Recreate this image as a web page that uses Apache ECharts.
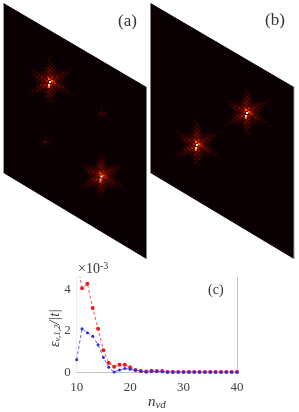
<!DOCTYPE html>
<html><head><meta charset="utf-8">
<style>html,body{margin:0;padding:0;background:#fff}#c{width:299px;height:412px}</style>
<script src="https://cdn.jsdelivr.net/npm/echarts@6/dist/echarts.min.js"></script>
</head><body><div id="c"></div>
<script>
const nvd = [10,11,12,13,14,15,16,17,18,19,20,21,22,23,24,25,26,27,28,29,30,31,32,33,34,35,36,37,38,39,40];
const redValues = [5.5,4.05,4.27,3.1,2.1,1.06,0.44,0.26,0.36,0.36,0.24,0.1,0.05,0.03,0.06,0.05,0.05,0.01,0.01,0,0,0,0,0,0,0,0,0,0,0,0];
const blueValues = [0.6,2.1,1.9,1.73,1.32,0.71,0.23,0.0,0.1,0.17,0.14,0.09,0.05,0.01,0.03,0.03,0.02,0,0,0,0,0,0,0,0,0,0,0,0,0,0];
const yTicks = [0,2,4];

const panelA = [[3.5,3],[146.5,87],[146.5,259],[3.5,173]];
const panelB = [[150.5,3],[294,87],[294,259],[150.5,173]];
const starsBig = [[50,82],[101.5,176.5],[197,145],[247,113]];
const starsSmall = [[102,114],[46,142]];

const armUp = [[-2,-5,4],[2,-5,4],[0,-8,3],[-2,-10,3],[2,-10,2],[0,-12,3],[-2,-14,2],[2,-14,2],[0,-16,2],[-2,-18,1],[2,-18,1],[0,-20,1],[-1,-23,1],[1,-26,0]];
const armDown = [[-2,5,4],[2,6,3],[0,8,3],[-2,10,3],[2,10,2],[0,12,2],[-2,14,2],[2,14,2],[0,17,1],[-2,19,1],[2,20,1],[0,23,0]];
const armUpRight = [[5,-3,3],[7,-5,3],[9,-3,2],[10,-7,2],[12,-5,2],[13,-9,2],[15,-7,1],[16,-10,1],[18,-9,1],[20,-12,0],[22,-13,0]];
const armDownRight = [[6,2,3],[8,4,3],[10,3,2],[11,6,2],[13,5,2],[14,8,1],[16,7,1],[17,10,1],[19,9,1],[21,12,0],[23,13,0]];
const armDownLeft = [[-5,3,4],[-7,5,3],[-9,3,3],[-10,7,2],[-12,5,2],[-13,9,2],[-15,7,1],[-16,10,1],[-18,9,1],[-20,12,0],[-23,13,0]];
const armUpLeft = [[-5,-3,3],[-8,-5,3],[-10,-3,2],[-11,-7,2],[-13,-5,2],[-14,-9,1],[-16,-7,1],[-17,-11,1],[-19,-9,0],[-21,-12,0]];
const coreCells = [[0,0,7],[2,-1,5],[-1,-3,5],[-1,3,6],[3,1,4],[4,-1,4],[-3,-1,4],[1,3,4],[1,-3,4],[-3,2,3],[5,1,4],[-1,5,5]];
const smallCells = [[0,0,2],[-2,-1,2],[2,-1,1],[-1,2,1],[2,2,1],[4,0,1],[-4,1,1],[0,-4,1],[0,5,0],[5,-3,0],[-5,-3,0],[5,3,0],[-5,3,0],[0,-7,0]];
const glowOutline = [[0,-28],[7,-10],[22,-15],[13,0],[23,15],[7,10],[0,26],[-7,10],[-23,15],[-13,0],[-22,-15],[-7,-10]];

const levelColors = ['#1a0100','#2e0300','#4a0500','#720900','#b01300','#f06800','#ffd860','#ffffff'];
const allCells = armUp.concat(armDown, armUpRight, armDownRight, armDownLeft, armUpLeft);

const chart = echarts.init(document.getElementById('c'), null, {renderer:'canvas'});

function poly(api, pts, style){
  return {type:'polygon', shape:{points:pts.map(p=>api.coord(p))}, style:style};
}
const panelData = [panelA, panelB];
const bigCellData = [];
starsBig.forEach(s=>{
  allCells.forEach(c=>bigCellData.push([s[0]+c[0], s[1]+c[1], c[2]]));
  coreCells.forEach(c=>bigCellData.push([s[0]+c[0], s[1]+c[1], c[2]]));
});
starsSmall.forEach(s=>smallCells.forEach(c=>bigCellData.push([s[0]+c[0], s[1]+c[1], c[2]])));

const serif = '"Liberation Serif"';
const option = {
  animation:false,
  backgroundColor:'#fff',
  textStyle:{fontFamily:serif},
  grid:[
    {left:0,top:0,right:0,bottom:0,show:false},
    {left:76.7,right:62,top:277,bottom:35,show:false}
  ],
  xAxis:[
    {gridIndex:0,type:'value',min:0,max:299,show:false},
    {gridIndex:1,type:'value',min:10,max:40,interval:10,
     axisLine:{onZero:false,lineStyle:{color:'#c4c4c4',width:1}},axisTick:{show:false},splitLine:{show:false},
     axisLabel:{color:'#444',fontSize:13,margin:9,fontFamily:serif},
     name:'{i|n}{s|vd}',nameLocation:'middle',nameGap:20,
     nameTextStyle:{rich:{i:{fontFamily:serif,fontStyle:'italic',fontSize:15,color:'#333'},s:{fontFamily:serif,fontStyle:'italic',fontSize:11,color:'#333',verticalAlign:'bottom',padding:[6,0,0,0]}}}
    }
  ],
  yAxis:[
    {gridIndex:0,type:'value',min:0,max:412,inverse:true,show:false},
    {gridIndex:1,type:'value',min:0,max:4.6,interval:2,position:'left',
     axisLine:{show:true,lineStyle:{color:'#ececec',width:1}},axisTick:{show:false},splitLine:{show:false},
     axisLabel:{color:'#444',fontSize:13,margin:6,fontFamily:serif,showMaxLabel:false,verticalAlignMinLabel:'middle',formatter:v=>yTicks.includes(v)?String(v):''}
    },
    {gridIndex:1,type:'value',min:0,max:4.6,position:'right',
     axisLine:{show:true,lineStyle:{color:'#c4c4c4',width:1}},axisTick:{show:false},splitLine:{show:false},axisLabel:{show:false}
    }
  ],
  series:[
    {type:'custom',xAxisIndex:0,yAxisIndex:0,silent:true,clip:false,data:panelData.map((p,i)=>[i]),z:1,
     renderItem:(params,api)=>poly(api,panelData[params.dataIndex],{fill:'#0a0003'})},
    {type:'custom',xAxisIndex:0,yAxisIndex:0,silent:true,clip:false,data:starsBig,z:2,
     renderItem:(params,api)=>{
       const s = starsBig[params.dataIndex];
       return poly(api,glowOutline.map(g=>[s[0]+g[0],s[1]+g[1]]),{
         fill:new echarts.graphic.RadialGradient(0.5,0.5,0.5,[
           {offset:0,color:'rgba(120,14,0,0.95)'},
           {offset:0.4,color:'rgba(58,5,0,0.8)'},
           {offset:1,color:'rgba(20,1,0,0.05)'}])
       });
     }},
    {type:'custom',xAxisIndex:0,yAxisIndex:0,silent:true,clip:false,data:bigCellData,z:3,
     encode:{x:0,y:1},
     renderItem:(params,api)=>{
       const pt = api.coord([api.value(0),api.value(1)]);
       const lv = api.value(2);
       return {type:'rect',shape:{x:pt[0]-1,y:pt[1]-1,width:2,height:2},style:{fill:levelColors[lv]}};
     }},
    {type:'custom',xAxisIndex:0,yAxisIndex:0,silent:true,clip:false,data:[[3.5],[294]],z:4,
     renderItem:(params,api)=>{
       const a = params.dataIndex===0 ? panelA[0] : panelB[1];
       const b = params.dataIndex===0 ? panelA[3] : panelB[2];
       const p1 = api.coord(a), p2 = api.coord(b);
       return {type:'line',shape:{x1:p1[0],y1:p1[1],x2:p2[0],y2:p2[1]},style:{stroke:'#9a9a9a',lineWidth:1}};
     }},
    {type:'line',name:'red',xAxisIndex:1,yAxisIndex:1,data:nvd.map((x,i)=>[x,redValues[i]]),clip:true,z:5,
     symbol:'circle',symbolSize:4,itemStyle:{color:'#f01820'},lineStyle:{color:'#f75055',width:1,type:[3,2.5]}},
    {type:'line',name:'blue',xAxisIndex:1,yAxisIndex:1,data:nvd.map((x,i)=>[x,blueValues[i]]),clip:true,z:6,
     symbol:'circle',symbolSize:3,itemStyle:{color:'#2a2ae8'},lineStyle:{color:'#5a5af0',width:1,type:[3,2.5]}}
  ],
  graphic:[
    {type:'text',left:118,top:13,z:20,style:{text:'(a)',font:'17px "Liberation Serif"',fill:'#333'}},
    {type:'text',left:265,top:12,z:20,style:{text:'(b)',font:'17px "Liberation Serif"',fill:'#333'}},
    {type:'text',left:208,top:283,z:20,style:{text:'(c)',font:'14px "Liberation Serif"',fill:'#333'}},
    {type:'text',left:78,top:261,z:20,style:{
      text:'×10{s|-3}',font:'14px "Liberation Serif"',fill:'#333',
      rich:{s:{fontSize:10,fontFamily:'Liberation Serif',fill:'#333',verticalAlign:'top',padding:[0,0,6,0]}}}},
    {type:'text',x:55,y:328,rotation:Math.PI/2,z:20,style:{
      text:'{i|ε}{s|v,1,2}{i|/|t|}',align:'center',verticalAlign:'middle',
      rich:{i:{fontFamily:'Liberation Serif',fontStyle:'italic',fontSize:14,fill:'#333'},
            s:{fontFamily:'Liberation Serif',fontStyle:'italic',fontSize:9,fill:'#333',verticalAlign:'bottom',padding:[5,0,0,0]}}}}
  ]
};
chart.setOption(option);
</script></body></html>
